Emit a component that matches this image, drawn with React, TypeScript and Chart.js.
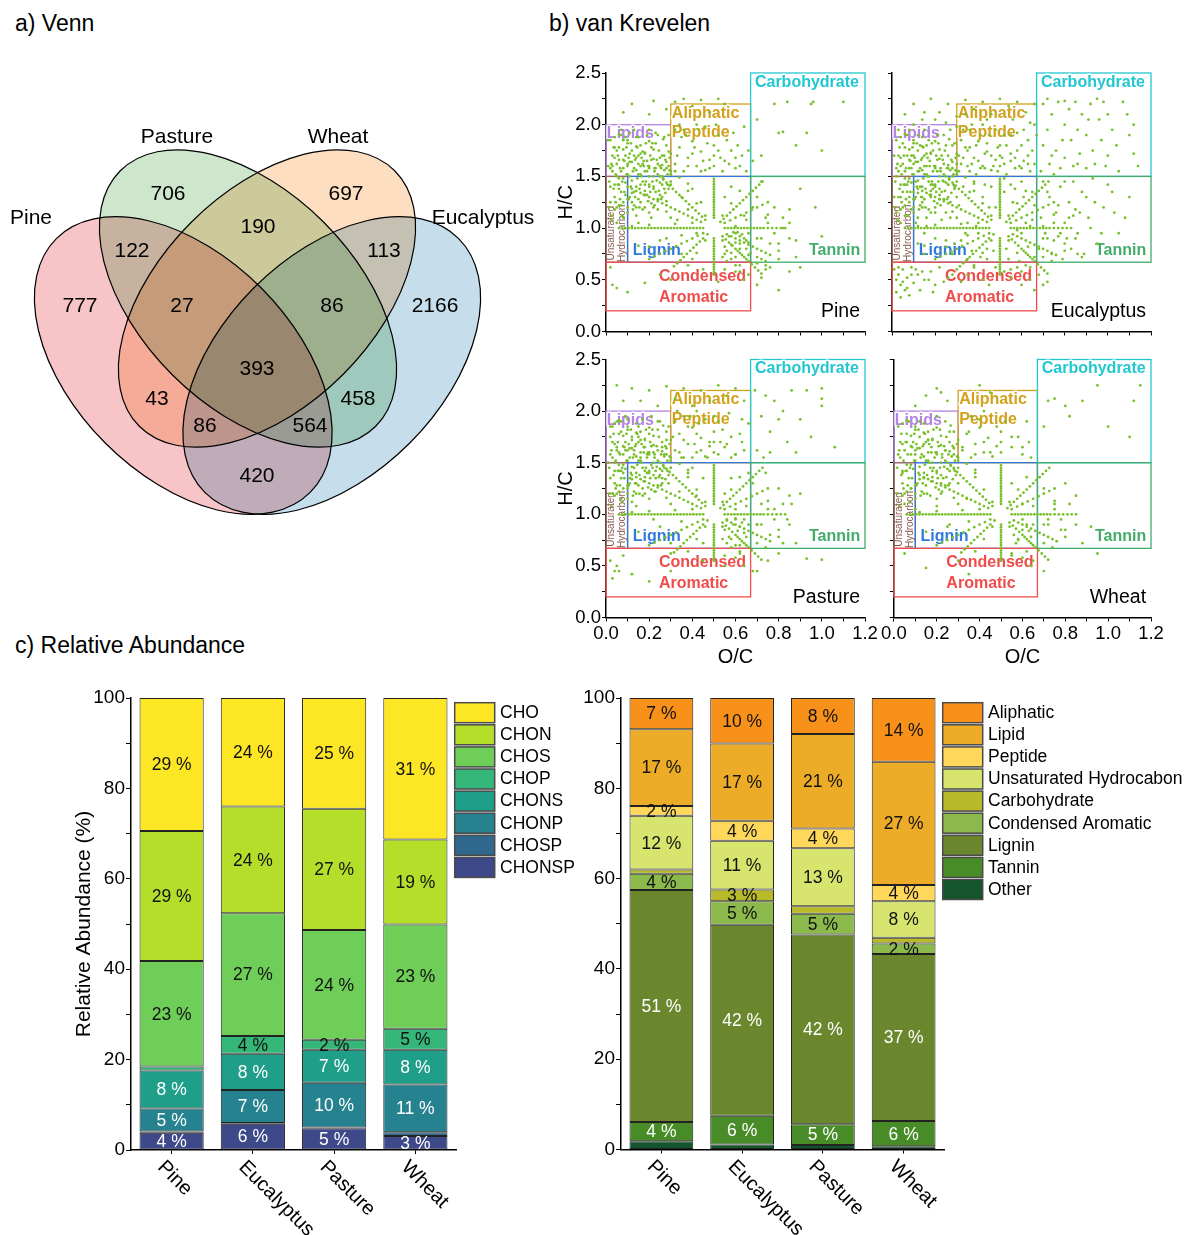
import React, { useEffect, useRef } from 'react';
import { Chart, registerables } from 'chart.js';

Chart.register(...registerables);
const FONT = '"Liberation Sans", Arial, Helvetica, sans-serif';
Chart.defaults.font.family = FONT;
Chart.defaults.color = '#000';

// ---------------- a) Venn data ----------------
const VENN_SETS = ['Pine', 'Pasture', 'Wheat', 'Eucalyptus'];
// region counts: Pine, Pasture, Wheat, Euc only; Pi∩Pa, Pa∩W, W∩E, Pi∩Pa∩W, Pa∩W∩E, all, Pi∩W, Pa∩E, Pi∩W∩E, Pi∩Pa∩E, Pi∩E
const VENN_COUNTS = [777, 706, 697, 2166, 122, 190, 113, 27, 86, 393, 43, 458, 86, 564, 420];

// ---------------- b) van Krevelen data ----------------
const VK_CLASSES = ['Lipids', 'Aliphatic Peptide', 'Carbohydrate', 'Unsaturated Hydrocarbon', 'Lignin', 'Tannin', 'Condensed Aromatic'];
const VK_OC_MIN = [0, 0.3, 0.67, 0, 0.1, 0.67, 0];
const VK_OC_MAX = [0.3, 0.67, 1.2, 0.1, 0.67, 1.2, 0.67];
const VK_HC_MIN = [1.5, 1.5, 1.5, 0.67, 0.67, 0.67, 0.2];
const VK_HC_MAX = [2.0, 2.2, 2.5, 1.5, 1.5, 1.5, 0.67];
const VK_SAMPLES = ['Pine', 'Eucalyptus', 'Pasture', 'Wheat'];

// formulas common to all samples (O/C, H/C pairs)
const VK_SHARED = [
  .06,1, .09,1, .12,1, .15,1, .18,1, .21,1, .24,1, .27,1, .3,1, .33,1, .36,1, .39,1, .42,1, .45,1,
  .55,1, .58,1, .61,1, .64,1, .67,1, .7,1, .73,1, .77,1, .81,1,
  .075,1, .105,1, .135,1, .165,1, .195,1, .225,1, .255,1, .285,1, .315,1, .345,1, .375,1, .405,1,
  .435,1, .565,1, .595,1, .625,1, .655,1, .685,1, .715,1, .75,1, .79,1, .83,1,
  .5,.55, .5,.6, .5,.65, .5,.7, .5,.75, .5,.8, .5,.85, .5,.9, .5,1.1, .5,1.15, .5,1.2, .5,1.25,
  .5,1.3, .5,1.35, .5,1.4, .5,1.45,
  .5,.575, .5,.625, .5,.675, .5,.725, .5,.775, .5,.825, .5,.875, .5,1.125, .5,1.175, .5,1.225,
  .5,1.275, .5,1.325, .5,1.375, .5,1.425, .5,1.475,
  .15,1.7, .2,1.6, .25,1.5, .28,1.44, .31,1.38, .34,1.32, .37,1.26, .4,1.2, .43,1.14, .46,1.08,
  .54,.92, .57,.86, .6,.8, .62,.76, .64,.72, .66,.68, .69,.62, .72,.56,
  .175,1.65, .225,1.55, .265,1.47, .295,1.41, .325,1.35, .355,1.29, .385,1.23, .415,1.17, .445,1.11,
  .555,.89, .585,.83, .61,.78, .63,.74, .65,.7, .675,.65, .705,.59,
  .33,.66, .36,.72, .39,.78, .42,.84, .45,.9, .47,.94, .53,1.06, .56,1.12, .59,1.18, .62,1.24,
  .65,1.3, .68,1.36, .71,1.42,
  .315,.63, .345,.69, .375,.75, .405,.81, .435,.87, .545,1.09, .575,1.15, .605,1.21, .635,1.27,
  .665,1.33, .695,1.39, .725,1.45,
  .12,1.38, .16,1.34, .2,1.3, .24,1.26, .28,1.22, .32,1.18, .36,1.14, .4,1.1, .44,1.06,
  .56,.94, .6,.9, .64,.86, .68,.82, .72,.78, .76,.74,
  .14,1.36, .18,1.32, .22,1.28, .26,1.24, .3,1.2, .34,1.16, .38,1.12, .42,1.08, .58,.92, .62,.88,
  .66,.84, .7,.8, .74,.76,
  .2,.7, .25,.75, .3,.8, .35,.85, .4,.9, .45,.95, .55,1.05, .6,1.1, .65,1.15, .7,1.2, .75,1.25,
  .225,.725, .275,.775, .325,.825, .375,.875, .425,.925, .575,1.075, .625,1.125, .675,1.175, .725,1.225,
  .1,1.2, .2,1.15, .3,1.1, .4,1.05, .6,.95, .7,.9, .8,.85,
  .15,.83, .25,.88, .35,.93, .65,1.08, .75,1.13, .85,1.18,
  .38,1.36, .42,1.24, .46,1.12, .54,.88, .58,.76, .62,.64,
  .38,.64, .42,.76, .46,.88, .54,1.12, .58,1.24, .62,1.36,
  .02,1.85, .03,1.7, .03,1.55, .04,1.42, .04,1.3, .05,1.2, .05,1.62, .06,1.78, .06,1.48, .07,1.35,
  .07,1.9, .08,1.25, .08,1.58, .09,1.7, .09,1.44, .1,1.82, .1,1.52, .1,1.15, .11,1.64, .11,1.3,
  .12,1.75, .12,1.46, .13,1.58, .13,1.22, .14,1.88, .14,1.68, .14,1.4, .15,1.52, .15,1.28, .16,1.8,
  .16,1.6, .17,1.45, .17,1.18, .18,1.72, .18,1.36, .19,1.55, .2,1.84, .2,1.42, .21,1.66, .21,1.24,
  .22,1.5, .22,1.76, .23,1.35, .24,1.62, .24,1.9, .25,1.44, .26,1.7, .26,1.3, .27,1.56, .28,1.8,
  .28,1.64, .29,1.38, .3,1.52, .3,1.72,
  .015,1.45, .015,1.2, .025,1.62, .025,1.08, .035,1.38, .035,1.78, .045,1.52, .045,1.25, .055,1.7, .055,1.42,
  .065,1.28, .065,1.58, .075,1.45, .075,1.12, .085,1.65, .085,1.35, .095,1.52, .095,1.78, .105,1.28, .105,1.68,
  .115,1.4, .115,1.82, .125,1.55, .125,1.18, .135,1.66, .135,1.3, .145,1.48, .145,1.78, .155,1.38, .155,1.2,
  .165,1.68, .165,1.5, .175,1.32, .175,1.6, .185,1.45, .185,1.82, .195,1.26, .195,1.6, .205,1.7, .205,1.35,
  .215,1.45, .215,1.82, .225,1.58, .225,1.22, .235,1.46, .235,1.66, .245,1.36, .245,1.75, .255,1.58, .255,1.28,
  .265,1.48, .265,1.86, .275,1.66, .275,1.34, .285,1.52, .285,1.42, .295,1.68, .295,1.56, .12,1.02, .2,1.03,
  .04,1.68, .06,1.22, .08,1.48, .1,1.62, .12,1.34, .14,1.56, .16,1.72, .18,1.42, .2,1.58, .22,1.38,
  .24,1.52, .26,1.42, .28,1.58, .3,1.45, .02,1.58, .04,1.18, .06,1.42, .08,1.66, .1,1.28, .14,1.2,
  .06,1.91, .1,1.85, .14,1.79, .18,1.73, .22,1.67, .26,1.61, .3,1.55, .34,1.49, .38,1.43,
  .04,1.88, .08,1.76, .12,1.64, .16,1.52, .2,1.4, .24,1.28, .28,1.16, .32,1.04,
  .32,1.62, .34,1.78, .36,1.55, .38,1.68, .4,1.84, .42,1.6, .44,1.74, .46,1.56, .48,1.66, .5,1.6,
  .5,1.7, .5,1.8, .52,1.9, .55,1.65, .58,1.75, .6,1.58, .63,1.7, .36,1.95, .42,2.0,
  .7,.72, .72,.9, .74,.68, .75,1.05, .78,.95, .8,.78, .82,1.1, .85,.9, .88,.72,
  .55,.6, .6,.58, .64,.5, .7,.45,
];

const VK_PINE = [
  .01,1.6, .02,1.4, .02,1.25, .03,1.12, .04,1.78, .05,1.5, .05,1.05, .06,1.38, .06,1.66, .07,1.22,
  .07,1.55, .08,1.85, .08,1.1, .09,1.32, .1,1.6, .1,1.4, .11,1.5, .11,1.92, .12,1.25, .13,1.7,
  .13,1.35, .14,1.12, .15,1.62, .16,1.42, .16,1.25, .17,1.74, .18,1.55, .18,1.2, .19,1.65, .19,1.32,
  .2,1.5, .2,1.95, .21,1.1, .22,1.4, .23,1.58, .23,1.82, .24,1.18, .25,1.68, .26,1.5, .27,1.38,
  .27,1.88, .28,1.26, .29,1.6, .29,1.74,
  .01,1.85, .03,1.6, .05,1.75, .07,1.95, .09,1.88, .11,1.72, .13,1.95, .15,1.88, .17,1.62, .19,1.9,
  .21,1.78, .23,1.92, .25,1.6, .27,1.7, .29,1.9,
  .08,2.12, .12,2.2, .2,2.1, .22,2.23, .28,2.15, .32,2.22, .36,2.25, .4,2.18, .44,2.24, .48,2.12,
  .52,2.25, .55,2.2,
  .33,1.7, .35,1.88, .38,1.6, .4,1.72, .43,1.95, .45,1.65, .47,1.82, .52,1.75, .54,1.55, .56,1.85,
  .6,1.68, .62,1.6, .65,1.55, .66,1.75,
  .32,1.95, .34,2.0, .37,1.9, .41,1.78, .44,1.55, .46,1.98, .48,1.58, .51,2.0, .53,1.68, .57,1.62,
  .59,1.92, .61,1.8, .64,1.98, .32,1.55,
  .15,1.05, .22,1.2, .25,1.32, .3,1.42, .33,1.08, .35,1.3, .38,1.18, .4,1.38, .42,.95, .44,1.25,
  .55,1.3, .58,1.4, .6,1.02, .62,.92, .64,1.12, .65,.8, .66,.95, .58,.7, .6,.72, .62,.85,
  .55,.75, .55,.82, .35,.75, .28,.9, .2,.82, .4,.7,
  .56,.78, .58,.84, .6,.86, .62,.8, .64,.9, .66,.86, .57,.92, .59,.96, .61,.96, .63,.94,
  .65,.88, .67,.76, .66,.74, .54,.72, .56,.68, .6,.64, .7,.66, .72,.7, .74,.64, .76,.62,
  .68,1.65, .7,2.05, .72,1.7, .78,2.2, .8,1.92, .82,1.93, .84,2.22, .88,1.8, .93,1.92, .95,2.2,
  .96,2.22, 1.0,1.75, 1.1,2.22,
  .68,1.2, .7,1.3, .72,1.45, .74,1.1, .76,.85, .78,1.2, .8,.7, .82,1.0, .85,1.05, .88,.88,
  .9,1.38, .97,1.2, 1.0,.92, .9,.62, .85,.58,
  .02,.62, .03,.45, .05,.42, .1,.38, .18,.47, .25,.55, .3,.5, .45,.6, .52,.48, .62,.58,
  .66,.55, .72,.52, .8,.4, .74,.6,
];

const VK_EUC = [
  .01,1.3, .01,1.7, .02,1.15, .02,1.5, .03,1.95, .03,1.3, .04,1.6, .04,1.05, .05,1.82, .05,1.35,
  .06,1.55, .06,1.12, .07,1.7, .07,1.42, .08,1.95, .08,1.3, .09,1.58, .09,1.18, .1,1.7, .1,1.35,
  .11,1.45, .11,1.05, .12,1.9, .12,1.55, .13,1.4, .13,1.8, .14,1.25, .15,1.6, .15,1.95, .16,1.1,
  .17,1.5, .17,1.85, .18,1.3, .19,1.75, .19,1.42, .2,1.2, .21,1.55, .21,1.9, .22,1.32, .23,1.7,
  .24,1.45, .25,1.8, .25,1.15, .26,1.58, .27,1.95, .27,1.25, .28,1.5, .29,1.82, .29,1.4, .3,1.62,
  .01,.6, .02,.5, .02,.38, .03,.55, .04,.45, .04,.33, .05,.6, .06,.4, .07,.52, .08,.35,
  .09,.62, .1,.47, .12,.55, .13,.4, .15,.5, .18,.58, .2,.45, .22,.62, .26,.52, .3,.6,
  .35,.55, .42,.5, .48,.62, .55,.52, .6,.45, .64,.62, .68,.55, .72,.48, .66,.4,
  .03,.62, .05,.48, .07,.42, .09,.55, .11,.6, .14,.58, .17,.5, .19,.38, .24,.48, .28,.55,
  .32,.48, .38,.62, .45,.45, .52,.58, .58,.62,
  .06,2.1, .1,2.2, .14,2.05, .18,2.25, .22,2.12, .26,2.2, .3,2.08, .34,2.24, .38,2.15, .42,2.22,
  .46,2.1, .5,2.25, .54,2.18, .58,2.22, .62,2.12, .66,2.2,
  .31,1.55, .32,1.85, .33,1.68, .35,1.6, .36,1.78, .37,2.0, .39,1.52, .4,1.65, .41,1.9, .43,1.58,
  .44,1.82, .46,1.7, .48,1.95, .49,1.55, .52,1.62, .53,1.8, .55,1.72, .57,1.58, .58,1.92, .6,1.8,
  .61,1.65, .63,1.85, .64,1.55, .66,1.62, .66,2.0,
  .31,1.7, .33,1.95, .35,1.75, .37,1.62, .39,1.8, .41,1.58, .43,1.72, .45,1.9, .47,1.6, .49,1.78,
  .51,1.68, .53,1.52, .55,1.9, .57,1.68, .59,1.6, .61,1.95, .63,1.62, .65,1.75, .67,1.9, .34,2.1,
  .44,2.05, .56,2.05, .64,2.02, .3,1.98, .25,2.02, .2,2.05, .15,2.12, .1,2.0,
  .69,1.55, .7,1.8, .7,2.2, .72,1.95, .73,1.62, .74,2.1, .76,1.75, .77,2.22, .78,1.58, .8,2.0,
  .8,1.68, .82,2.15, .83,1.85, .84,1.6, .85,2.22, .86,1.95, .87,1.72, .88,2.1, .9,1.58, .9,1.9,
  .92,2.2, .93,1.75, .94,1.62, .96,2.05, .97,1.85, .98,2.22, 1.0,1.7, 1.0,2.1, 1.02,1.95, 1.05,1.55,
  1.07,2.22, 1.1,1.9, 1.12,2.0, 1.12,1.72, .75,1.52, .72,2.25, .8,2.23, .95,2.25,
  .74,1.7, .79,1.85, .86,1.62, .91,2.05, .99,1.6, 1.04,1.8, 1.09,2.1, 1.14,1.6,
  .12,1.1, .15,.95, .18,1.15, .2,.9, .22,1.28, .25,.82, .27,1.1, .3,1.3, .32,.88, .33,1.4,
  .35,1.05, .37,.78, .38,1.45, .4,.95, .42,1.3, .44,.8, .46,1.4, .48,1.2, .52,1.35, .54,.7,
  .56,1.25, .58,.98, .6,1.45, .62,1.05, .63,.82, .65,1.35, .66,.72, .55,1.42, .45,1.2, .35,.7,
  .15,.75, .12,.85,
  .14,1.3, .16,1.02, .19,1.38, .23,1.08, .26,1.42, .29,.85, .31,1.22, .34,.95, .36,1.35, .39,1.02,
  .41,.72, .43,1.42, .47,.78, .53,.8, .57,1.38, .59,.68, .61,1.3, .64,1.02, .66,1.22, .52,1.48,
  .44,.7, .28,.75,
  .68,.8, .69,1.1, .7,1.45, .71,.95, .73,1.3, .74,.75, .76,1.15, .77,.92, .78,1.4, .79,.7,
  .8,1.05, .82,1.25, .83,.8, .84,1.45, .86,.95, .87,1.15, .89,.75, .9,1.3, .92,1.0, .95,.85,
  .98,1.2, 1.02,1.35, 1.05,.95, 1.08,1.1, .93,1.48,
  .7,1.02, .72,1.35, .75,.88, .77,1.22, .8,1.45, .81,.9, .84,1.12, .86,.75, .88,1.35, .91,1.1,
  .94,1.25, .97,.95, 1.0,1.42, 1.03,1.15, 1.1,1.3,
];

const VK_PASTURE = [
  .02,1.35, .02,1.75, .03,1.2, .04,1.5, .05,1.9, .05,1.28, .06,1.6, .07,1.15, .07,1.8, .08,1.4,
  .09,1.62, .1,1.25, .1,1.92, .11,1.55, .12,1.12, .12,1.72, .13,1.45, .14,1.3, .15,1.85, .16,1.55,
  .17,1.25, .18,1.65, .19,1.4, .2,1.78, .21,1.48, .22,1.6, .23,1.22, .24,1.82, .25,1.38, .26,1.65,
  .27,1.45, .28,1.72, .29,1.3,
  .01,1.5, .03,1.85, .05,1.65, .07,1.42, .09,1.95, .11,1.35, .13,1.62, .15,1.75, .17,1.92, .19,1.58,
  .21,1.95, .23,1.42, .25,1.9, .27,1.58, .29,1.85,
  .05,2.25, .08,2.1, .12,2.22, .16,2.1, .2,2.2, .24,2.05, .28,2.24, .32,2.12, .36,2.22, .4,2.05,
  .44,2.2, .48,2.1, .52,2.25, .56,2.15, .6,2.22, .64,2.1,
  .32,1.9, .34,1.6, .36,1.72, .38,1.85, .4,1.55, .42,1.78, .44,1.62, .46,1.92, .48,1.7, .52,1.58,
  .54,1.82, .56,1.68, .58,1.55, .62,1.78, .64,1.62, .66,1.88,
  .31,1.75, .33,2.0, .35,1.55, .39,1.95, .41,1.68, .43,1.88, .47,1.55, .5,1.95, .53,1.7, .57,1.98,
  .6,1.58, .63,1.92,
  .69,2.2, .72,1.95, .74,2.15, .76,1.8, .78,2.1, .8,1.92, .82,2.0, .84,1.7, .86,2.2, .88,1.6,
  .9,1.92, .93,2.2, .95,1.75, 1.0,2.22, 1.0,2.12, 1.0,2.05, .7,1.62, .76,1.6, 1.06,1.65, .73,1.55,
  .14,1.08, .18,1.2, .22,.95, .26,1.35, .3,1.45, .34,1.22, .38,1.4, .42,1.18, .45,1.35, .55,1.2,
  .58,1.35, .6,1.05, .62,.88, .64,.95, .66,1.4, .56,.72, .6,.7, .45,.72, .3,.72, .4,1.45,
  .55,.85, .57,.78, .59,.9, .61,.84, .63,.92, .65,.78, .56,.95, .6,.96, .64,.82, .66,.9,
  .58,.68, .62,.7, .54,.76,
  .68,1.3, .7,.9, .72,1.1, .74,1.4, .76,.8, .78,1.05, .8,1.25, .82,.72, .84,.95, .86,1.1,
  .9,1.2, .75,.55, .93,.57, 1.0,.56, .8,.62,
  .03,.38, .05,.5, .06,.45, .12,.42, .2,.35, .3,.45, .45,.55, .55,.5, .62,.62, .68,.45,
  .02,.55, .04,.45, .08,.6, .3,.62,
];

const VK_WHEAT = [
  .04,1.4, .06,1.7, .08,1.25, .1,1.58, .12,1.9, .14,1.35, .16,1.72, .18,1.5, .2,1.95, .22,1.3,
  .24,1.62, .26,1.8, .28,1.45, .05,1.1, .1,1.05, .2,1.08,
  .1,2.05, .15,2.15, .2,2.22, .22,2.18, .25,2.1, .4,2.25, .45,2.18,
  .32,1.65, .35,1.8, .38,1.58, .4,1.92, .42,1.7, .45,1.6, .48,1.85, .55,1.75, .6,1.65, .62,1.9,
  .64,1.55,
  .72,2.1, .75,2.12, .8,2.05, .82,1.95, .88,2.1, .95,2.25, 1.0,1.85, 1.1,1.75, 1.12,2.1, 1.15,2.25,
  .7,1.85,
  .22,1.2, .26,.9, .3,1.3, .34,1.15, .38,1.4, .55,1.3, .6,1.1, .62,.9, .64,.78, .58,.75,
  .56,.8, .6,.85, .63,.84, .65,.9, .57,.72,
  .7,1.25, .72,.95, .75,1.1, .78,.85, .8,1.3, .85,1.0, .92,.88, .95,.62,
  .05,.62, .15,.48, .3,.55, .35,.42, .55,.62, .65,.55,
];

// ---------------- c) Relative abundance data ----------------
const SAMPLES = ['Pine', 'Eucalyptus', 'Pasture', 'Wheat'];
// elemental composition (%), listed bottom -> top of each stack
const EL_CLASSES = ['CHONSP', 'CHOSP', 'CHONP', 'CHONS', 'CHOP', 'CHOS', 'CHON', 'CHO'];
const EL_CHONSP = [3.8, 5.8, 4.8, 3.1];
const EL_CHOSP = [0.3, 0.2, 0.2, 0.8];
const EL_CHONP = [5.1, 7.3, 9.9, 10.6];
const EL_CHONS = [8.4, 8.0, 7.3, 7.7];
const EL_CHOP = [0.9, 3.9, 2.2, 4.6];
const EL_CHOS = [23.3, 27.2, 24.3, 23.1];
const EL_CHON = [28.8, 23.6, 26.8, 18.8];
const EL_CHO = [29.4, 24.0, 24.5, 31.3];

// compound classes (%), bottom -> top
const CC_CLASSES = ['Other', 'Tannin', 'Lignin', 'Condensed Aromatic', 'Carbohydrate', 'Unsaturated Hydrocabon', 'Peptide', 'Lipid', 'Aliphatic'];
const CC_OTHER = [1.8, 1.1, 1.0, 0.7];
const CC_TANNIN = [4.3, 6.4, 4.6, 5.6];
const CC_LIGNIN = [51.4, 42.3, 42.0, 37.0];
const CC_CONDENSED = [3.6, 5.2, 4.6, 2.3];
const CC_CARBO = [0.9, 2.6, 1.7, 1.3];
const CC_UNSAT = [11.9, 10.8, 12.8, 8.1];
const CC_PEPTIDE = [2.2, 4.4, 4.4, 3.6];
const CC_LIPID = [17.0, 17.1, 20.9, 27.3];
const CC_ALIPHATIC = [6.9, 10.1, 8.0, 14.1];

// ---------------- layout & styles ----------------
const VENN_FILLS = ['#F7C5C8', '#CEE7CC', '#FDDEC1', '#C6DEEC'];
const VENN_SHAPES = [
  { cx: 183.25, cy: 365.5, a: 179.5, b: 110, rot: 45 },
  { cx: 248, cy: 298.5, a: 180.6, b: 107.5, rot: 45 },
  { cx: 267, cy: 298.5, a: 180.6, b: 107.5, rot: -45 },
  { cx: 331.75, cy: 365.5, a: 179.5, b: 110, rot: -45 },
];
const VENN_SET_POS = [[31, 218], [177, 137], [338, 137], [483, 218]];
const VENN_COUNT_POS = [[80, 306], [168, 194], [346, 194], [435, 306], [132, 251], [258, 227], [384, 251],
  [182, 306], [332, 306], [257, 369], [157, 399], [358, 399], [205, 426], [310, 426], [257, 476]];

const VK_BOX_COLORS = ['#B483E3', '#D2A21C', '#22C7D0', '#9A6A5E', '#3079DE', '#43AC6B', '#F04C4C'];
const VK_TEXT = [
  { t: 'Lipids', c: 0, x: 0.004, y: 1.91, al: 'left' },
  { t: 'Aliphatic', c: 1, x: 0.305, y: 2.11, al: 'left' },
  { t: 'Peptide', c: 1, x: 0.305, y: 1.92, al: 'left' },
  { t: 'Carbohydrate', c: 2, x: 0.69, y: 2.41, al: 'left' },
  { t: 'Lignin', c: 4, x: 0.124, y: 0.78, al: 'left' },
  { t: 'Tannin', c: 5, x: 1.178, y: 0.78, al: 'right' },
  { t: 'Condensed', c: 6, x: 0.245, y: 0.53, al: 'left' },
  { t: 'Aromatic', c: 6, x: 0.245, y: 0.33, al: 'left' },
];
const VK_POINT_COLOR = 'rgb(122,192,45)';

const EL_COLORS = ['#3E4989', '#31688E', '#26828E', '#1F9E89', '#35B779', '#6ECE58', '#B5DE2B', '#FDE725'];
const EL_WHITE = [true, true, true, true, false, false, false, false];
const CC_COLORS = ['#14552D', '#488C28', '#6B872D', '#8CB94B', '#B8BA2A', '#D7E46E', '#FFD75A', '#ECAC28', '#F8911A'];
const CC_WHITE = [true, true, true, false, false, false, false, false, false];

function toXY(arr: number[]) {
  const out: { x: number; y: number }[] = [];
  for (let i = 0; i + 1 < arr.length; i += 2) out.push({ x: arr[i], y: arr[i + 1] });
  return out;
}

// ---------------- components ----------------
function VennPanel() {
  const ref = useRef<HTMLCanvasElement>(null);
  useEffect(() => {
    const plugin = {
      id: 'vennDraw',
      afterDraw(chart: any) {
        const { ctx } = chart;
        const xs = chart.scales.x, ys = chart.scales.y;
        const px = (v: number) => xs.getPixelForValue(v);
        const py = (v: number) => ys.getPixelForValue(v);
        const k = Math.abs(px(100) - px(0)) / 100;
        const path = (s: any) => {
          ctx.beginPath();
          ctx.ellipse(px(s.cx), py(s.cy), s.a * k, s.b * k, (s.rot * Math.PI) / 180, 0, Math.PI * 2);
        };
        ctx.save();
        ctx.globalCompositeOperation = 'multiply';
        VENN_SHAPES.forEach((s, i) => { path(s); ctx.fillStyle = VENN_FILLS[i]; ctx.fill(); });
        ctx.globalCompositeOperation = 'source-over';
        ctx.strokeStyle = '#000';
        ctx.lineWidth = 1.2;
        VENN_SHAPES.forEach((s) => { path(s); ctx.stroke(); });
        ctx.fillStyle = '#000';
        ctx.font = `21px ${FONT}`;
        ctx.textAlign = 'center';
        ctx.textBaseline = 'middle';
        VENN_SETS.forEach((n, i) => ctx.fillText(n, px(VENN_SET_POS[i][0]), py(VENN_SET_POS[i][1])));
        VENN_COUNTS.forEach((c, i) => ctx.fillText(String(c), px(VENN_COUNT_POS[i][0]), py(VENN_COUNT_POS[i][1])));
        ctx.restore();
      },
    };
    const chart = new Chart(ref.current as HTMLCanvasElement, {
      type: 'scatter',
      data: { datasets: [{ data: [] }] },
      options: {
        responsive: false, animation: false, devicePixelRatio: 1,
        layout: { padding: 0 },
        plugins: { legend: { display: false }, tooltip: { enabled: false } },
        scales: {
          x: { type: 'linear', min: 0, max: 545, display: false },
          y: { type: 'linear', min: 0, max: 540, reverse: true, display: false },
        },
      },
      plugins: [plugin],
    } as any);
    return () => chart.destroy();
  }, []);
  return <canvas ref={ref} width={545} height={540} style={{ position: 'absolute', left: 0, top: 0 }} />;
}

type Geo = { left: number; top: number; width: number; height: number; l: number; t: number; r: number; b: number };

function VKPanel({ geo, points, name, showX, showY }: { geo: Geo; points: number[]; name: string; showX: boolean; showY: boolean }) {
  const ref = useRef<HTMLCanvasElement>(null);
  useEffect(() => {
    const plugin = {
      id: 'vkDraw',
      beforeDatasetsDraw(chart: any) {
        const { ctx } = chart;
        const xs = chart.scales.x, ys = chart.scales.y;
        ctx.save();
        ctx.lineWidth = 1.3;
        VK_CLASSES.forEach((_, i) => {
          const x0 = xs.getPixelForValue(VK_OC_MIN[i]);
          const x1 = xs.getPixelForValue(VK_OC_MAX[i]);
          const y0 = ys.getPixelForValue(VK_HC_MAX[i]);
          const y1 = ys.getPixelForValue(VK_HC_MIN[i]);
          ctx.strokeStyle = VK_BOX_COLORS[i];
          ctx.strokeRect(x0, y0, x1 - x0, y1 - y0);
        });
        ctx.font = `bold 16px ${FONT}`;
        ctx.textBaseline = 'middle';
        ctx.lineJoin = 'round';
        VK_TEXT.forEach((tx) => {
          ctx.textAlign = tx.al;
          const X = xs.getPixelForValue(tx.x), Y = ys.getPixelForValue(tx.y);
          ctx.strokeStyle = 'rgba(255,255,255,0.9)';
          ctx.lineWidth = 3;
          ctx.strokeText(tx.t, X, Y);
          ctx.fillStyle = VK_BOX_COLORS[tx.c];
          ctx.fillText(tx.t, X, Y);
        });
        ctx.font = `10px ${FONT}`;
        ctx.fillStyle = '#8A5A4E';
        ctx.textAlign = 'center';
        const yc = ys.getPixelForValue(0.95);
        [['Unsaturated', 0.026], ['Hydrocarbon', 0.076]].forEach(([s, xv]) => {
          ctx.save();
          ctx.translate(xs.getPixelForValue(xv as number), yc);
          ctx.rotate(-Math.PI / 2);
          ctx.fillText(s as string, 0, 0);
          ctx.restore();
        });
        ctx.restore();
      },
      afterDraw(chart: any) {
        const { ctx, chartArea } = chart;
        const xs = chart.scales.x, ys = chart.scales.y;
        ctx.save();
        ctx.fillStyle = '#000';
        ctx.font = `19.5px ${FONT}`;
        ctx.textAlign = 'right';
        ctx.textBaseline = 'middle';
        ctx.fillText(name, xs.getPixelForValue(1.177), ys.getPixelForValue(0.19));
        ctx.font = `20px ${FONT}`;
        ctx.textAlign = 'center';
        if (showY) {
          ctx.save();
          ctx.translate(566 - geo.left, (chartArea.top + chartArea.bottom) / 2);
          ctx.rotate(-Math.PI / 2);
          ctx.fillText('H/C', 0, 0);
          ctx.restore();
        }
        if (showX) {
          ctx.fillText('O/C', (chartArea.left + chartArea.right) / 2, 657 - geo.top);
        }
        ctx.restore();
      },
    };
    const chart = new Chart(ref.current as HTMLCanvasElement, {
      type: 'scatter',
      data: {
        datasets: [{
          data: toXY(points),
          pointRadius: 1.4,
          pointBackgroundColor: VK_POINT_COLOR,
          pointBorderWidth: 0,
          showLine: false,
        }],
      },
      options: {
        responsive: false, animation: false, devicePixelRatio: 1,
        layout: { padding: { left: 0, top: geo.t, right: geo.width - geo.r, bottom: 0 } },
        plugins: { legend: { display: false }, tooltip: { enabled: false } },
        scales: {
          x: {
            type: 'linear', min: 0, max: 1.2,
            ticks: {
              stepSize: 0.1, display: showX, autoSkip: false, maxRotation: 0, minRotation: 0, padding: 1,
              font: { size: 18.5 }, color: '#000',
              callback: (v: any) => { const k = Math.round(Number(v) * 10); return k % 2 === 0 ? (k / 10).toFixed(1) : ''; },
            },
            grid: { drawOnChartArea: false, drawTicks: true, tickLength: 4, color: '#000' },
            border: { color: '#000', width: 1.5 },
            afterFit: (s: any) => { s.height = geo.height - geo.b; },
          },
          y: {
            type: 'linear', min: 0, max: 2.5,
            ticks: {
              stepSize: 0.25, display: showY, autoSkip: false, padding: 1,
              font: { size: 18.5 }, color: '#000',
              callback: (v: any) => { const k = Math.round(Number(v) * 4); return k % 2 === 0 ? (k / 4).toFixed(1) : ''; },
            },
            grid: { drawOnChartArea: false, drawTicks: true, tickLength: 4, color: '#000' },
            border: { color: '#000', width: 1.5 },
            afterFit: (s: any) => { s.width = geo.l; },
          },
        },
      },
      plugins: [plugin],
    } as any);
    return () => chart.destroy();
  }, []);
  return <canvas ref={ref} width={geo.width} height={geo.height} style={{ position: 'absolute', left: geo.left, top: geo.top }} />;
}

type Series = { label: string; data: number[]; color: string; white: boolean };

function BarPanel({ geo, series, legendX, textX, yTitle }: { geo: Geo; series: Series[]; legendX: number; textX: number; yTitle?: string }) {
  const ref = useRef<HTMLCanvasElement>(null);
  useEffect(() => {
    const plugin = {
      id: 'barDraw',
      afterDatasetsDraw(chart: any) {
        const { ctx } = chart;
        ctx.save();
        ctx.font = `17.5px ${FONT}`;
        ctx.textAlign = 'center';
        ctx.textBaseline = 'middle';
        series.forEach((s, i) => {
          const meta = chart.getDatasetMeta(i);
          meta.data.forEach((el: any, j: number) => {
            const v = s.data[j];
            if (v < 2) return;
            ctx.fillStyle = s.white ? '#FFFFFF' : '#111111';
            ctx.fillText(`${Math.round(v)} %`, el.x, (el.y + el.base) / 2 + 1);
          });
        });
        ctx.restore();
      },
      afterDraw(chart: any) {
        const { ctx, chartArea } = chart;
        const xs = chart.scales.x;
        ctx.save();
        const rev = [...series].reverse();
        ctx.font = `17.5px ${FONT}`;
        ctx.textBaseline = 'middle';
        ctx.textAlign = 'left';
        rev.forEach((s, i) => {
          const top = 702.7 - geo.top + i * 22.1;
          ctx.fillStyle = s.color;
          ctx.fillRect(legendX - geo.left, top, 40, 20);
          ctx.strokeStyle = '#4a4a4a';
          ctx.lineWidth = 1.5;
          ctx.strokeRect(legendX - geo.left, top, 40, 20);
          ctx.fillStyle = '#000';
          ctx.fillText(s.label, textX - geo.left, top + 10.5);
        });
        ctx.font = `20px ${FONT}`;
        ctx.textBaseline = 'top';
        SAMPLES.forEach((c, j) => {
          ctx.save();
          ctx.translate(xs.getPixelForValue(j) - 4, chartArea.bottom + 7);
          ctx.rotate(Math.PI / 4);
          ctx.fillText(c, 0, 0);
          ctx.restore();
        });
        if (yTitle) {
          ctx.font = `21px ${FONT}`;
          ctx.textAlign = 'center';
          ctx.textBaseline = 'middle';
          ctx.save();
          ctx.translate(84 - geo.left, (chartArea.top + chartArea.bottom) / 2);
          ctx.rotate(-Math.PI / 2);
          ctx.fillText(yTitle, 0, 0);
          ctx.restore();
        }
        ctx.restore();
      },
    };
    const chart = new Chart(ref.current as HTMLCanvasElement, {
      type: 'bar',
      data: {
        labels: SAMPLES,
        datasets: series.map((s) => ({
          label: s.label, data: s.data, backgroundColor: s.color,
          borderColor: '#222222', borderWidth: 1, borderSkipped: false,
          barPercentage: 0.79, categoryPercentage: 1,
        })),
      },
      options: {
        responsive: false, animation: false, devicePixelRatio: 1,
        layout: { padding: { left: 0, top: geo.t, right: geo.width - geo.r, bottom: 0 } },
        plugins: { legend: { display: false }, tooltip: { enabled: false } },
        scales: {
          x: {
            stacked: true,
            ticks: { display: false },
            grid: { drawOnChartArea: false, drawTicks: true, tickLength: 4, color: '#000', offset: false },
            border: { color: '#000', width: 1.5 },
            afterFit: (s: any) => { s.height = geo.height - geo.b; },
          },
          y: {
            stacked: true, min: 0, max: 100,
            ticks: {
              stepSize: 10, autoSkip: false, padding: 1, font: { size: 19 }, color: '#000',
              callback: (v: any) => (Number(v) % 20 === 0 ? String(v) : ''),
            },
            grid: { drawOnChartArea: false, drawTicks: true, tickLength: 5, color: '#000' },
            border: { color: '#000', width: 1.5 },
            afterFit: (s: any) => { s.width = geo.l; },
          },
        },
      },
      plugins: [plugin],
    } as any);
    return () => chart.destroy();
  }, []);
  return <canvas ref={ref} width={geo.width} height={geo.height} style={{ position: 'absolute', left: geo.left, top: geo.top }} />;
}

const titleStyle: React.CSSProperties = {
  position: 'absolute', fontFamily: FONT, fontSize: 23, lineHeight: '26px', color: '#000', whiteSpace: 'nowrap',
};

export default function App() {
  const elSeries: Series[] = [EL_CHONSP, EL_CHOSP, EL_CHONP, EL_CHONS, EL_CHOP, EL_CHOS, EL_CHON, EL_CHO].map((d, i) => ({
    label: EL_CLASSES[i], data: d, color: EL_COLORS[i], white: EL_WHITE[i],
  }));
  const ccSeries: Series[] = [CC_OTHER, CC_TANNIN, CC_LIGNIN, CC_CONDENSED, CC_CARBO, CC_UNSAT, CC_PEPTIDE, CC_LIPID, CC_ALIPHATIC].map((d, i) => ({
    label: CC_CLASSES[i], data: d, color: CC_COLORS[i], white: CC_WHITE[i],
  }));
  const vkData = [VK_PINE, VK_EUC, VK_PASTURE, VK_WHEAT].map((a) => VK_SHARED.concat(a));
  const vkGeo: Geo[] = [
    { left: 545, top: 60, width: 335, height: 285, l: 61, t: 13, r: 320, b: 271.5 },
    { left: 880, top: 60, width: 310, height: 285, l: 12, t: 13, r: 271, b: 271.5 },
    { left: 545, top: 345, width: 335, height: 325, l: 61, t: 14.5, r: 320, b: 272.5 },
    { left: 880, top: 345, width: 310, height: 325, l: 12, t: 14.5, r: 271, b: 272.5 },
  ];
  return (
    <div style={{ position: 'absolute', left: 0, top: 0, width: 1190, height: 1235, background: '#fff', overflow: 'hidden' }}>
      <div style={{ ...titleStyle, left: 15, top: 10 }}>a) Venn</div>
      <div style={{ ...titleStyle, left: 549, top: 10 }}>b) van Krevelen</div>
      <div style={{ ...titleStyle, left: 15, top: 632 }}>c) Relative Abundance</div>
      <VennPanel />
      {VK_SAMPLES.map((n, i) => (
        <VKPanel key={n} geo={vkGeo[i]} points={vkData[i]} name={n} showX={i >= 2} showY={i % 2 === 0} />
      ))}
      <BarPanel
        geo={{ left: 60, top: 680, width: 540, height: 555, l: 71, t: 18, r: 396, b: 470 }}
        series={elSeries} legendX={454.7} textX={500} yTitle="Relative Abundance (%)"
      />
      <BarPanel
        geo={{ left: 560, top: 680, width: 630, height: 555, l: 61, t: 18, r: 384, b: 469.5 }}
        series={ccSeries} legendX={942.7} textX={988}
      />
    </div>
  );
}
